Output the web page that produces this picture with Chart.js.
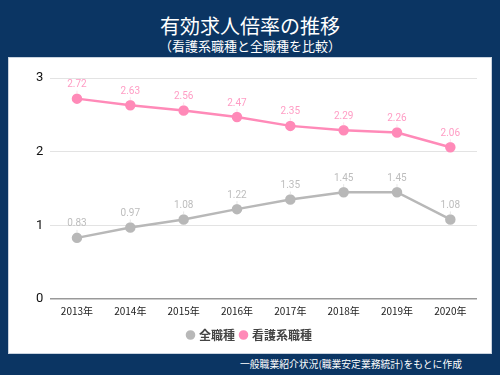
<!DOCTYPE html>
<html lang="ja">
<head>
<meta charset="utf-8">
<script src="https://cdn.jsdelivr.net/npm/chart.js@4"></script>
<style>
  html, body { margin: 0; padding: 0; }
  body {
    width: 500px; height: 375px; overflow: hidden;
    background: #0b3563;
    font-family: "Noto Sans CJK JP", "Noto Sans", sans-serif;
    position: relative;
  }
  #titulo {
    position: absolute; left: 0; top: 13px; width: 500px;
    text-align: center; color: #fff; font-size: 20px; line-height: 26px;
  }
  #subtitulo {
    position: absolute; left: 0; top: 37px; width: 500px;
    text-align: center; color: #fff; font-size: 13px; line-height: 18px;
  }
  #panel {
    position: absolute; left: 8px; top: 57px; width: 482px; height: 295px;
    background: #fff; border: 1px solid #c9d3df;
  }
  #fuente {
    position: absolute; right: 38px; top: 356px;
    color: #fff; font-size: 9.8px; line-height: 16px;
  }
</style>
</head>
<body>
<div id="titulo">有効求人倍率の推移</div>
<div id="subtitulo">（看護系職種と全職種を比較）</div>
<div id="panel"><canvas id="grafica" width="482" height="295"></canvas></div>
<div id="fuente">一般職業紹介状況(職業安定業務統計)をもとに作成</div>
<script>
const anios = ["2013年", "2014年", "2015年", "2016年", "2017年", "2018年", "2019年", "2020年"];
const todos = [0.83, 0.97, 1.08, 1.22, 1.35, 1.45, 1.45, 1.08];
const enfermeria = [2.72, 2.63, 2.56, 2.47, 2.35, 2.29, 2.26, 2.06];

const colorGris = "#b8b8b8";
const colorRosa = "#ff8ab8";

// etiquetas de valor encima de cada punto
const etiquetas = {
  id: "etiquetas",
  afterDatasetsDraw(chart) {
    const ctx = chart.ctx;
    chart.data.datasets.forEach((ds, i) => {
      const meta = chart.getDatasetMeta(i);
      ctx.save();
      ctx.font = "10px Roboto";
      ctx.textAlign = "center";
      ctx.textBaseline = "middle";
      meta.data.forEach((p, j) => {
        ctx.strokeStyle = ds.etiquetaLinea;
        ctx.lineWidth = 1;
        ctx.beginPath();
        ctx.moveTo(p.x, p.y - 5);
        ctx.lineTo(p.x, p.y - 8);
        ctx.stroke();
        ctx.fillStyle = ds.etiquetaColor;
        ctx.fillText(ds.data[j].toFixed(2), p.x, p.y - 14);
      });
      ctx.restore();
    });
  }
};

new Chart(document.getElementById("grafica"), {
  type: "line",
  data: {
    labels: anios,
    datasets: [
      {
        label: "全職種",
        data: todos,
        borderColor: colorGris,
        backgroundColor: colorGris,
        pointBackgroundColor: colorGris,
        borderWidth: 2.5,
        pointRadius: 4,
        tension: 0,
        etiquetaColor: "#bdbdbd",
        etiquetaLinea: "#e6e6e6"
      },
      {
        label: "看護系職種",
        data: enfermeria,
        borderColor: colorRosa,
        backgroundColor: colorRosa,
        pointBackgroundColor: colorRosa,
        borderWidth: 2.5,
        pointRadius: 4,
        tension: 0,
        etiquetaColor: "#ff9cc4",
        etiquetaLinea: "#ffe0ec"
      }
    ]
  },
  options: {
    responsive: false,
    animation: false,
    layout: { padding: { left: 14, right: 14, top: 20, bottom: 2 } },
    plugins: {
      legend: {
        position: "bottom",
        labels: {
          usePointStyle: true,
          pointStyle: "circle",
          boxWidth: 5,
          boxHeight: 5,
          padding: 6,
          color: "#444",
          font: { size: 12, family: "'Noto Sans CJK JP'", weight: "bold" }
        }
      },
      tooltip: { enabled: false }
    },
    scales: {
      x: {
        offset: true,
        grid: { display: false, drawTicks: false },
        border: { display: false },
        ticks: { padding: 6, color: "#222", font: { size: 10, family: "'Noto Sans CJK JP'" } }
      },
      y: {
        min: 0,
        max: 3,
        afterFit: (eje) => { eje.width += 6; },
        ticks: { stepSize: 1, color: "#111", padding: 7, font: { size: 13, family: "Roboto" } },
        grid: {
          color: (c) => c.tick.value === 0 ? "#999" : "#e3e3e3",
          lineWidth: (c) => c.tick.value === 0 ? 1.5 : 1,
          drawTicks: false
        },
        border: { display: false }
      }
    }
  },
  plugins: [etiquetas]
});
</script>
</body>
</html>
